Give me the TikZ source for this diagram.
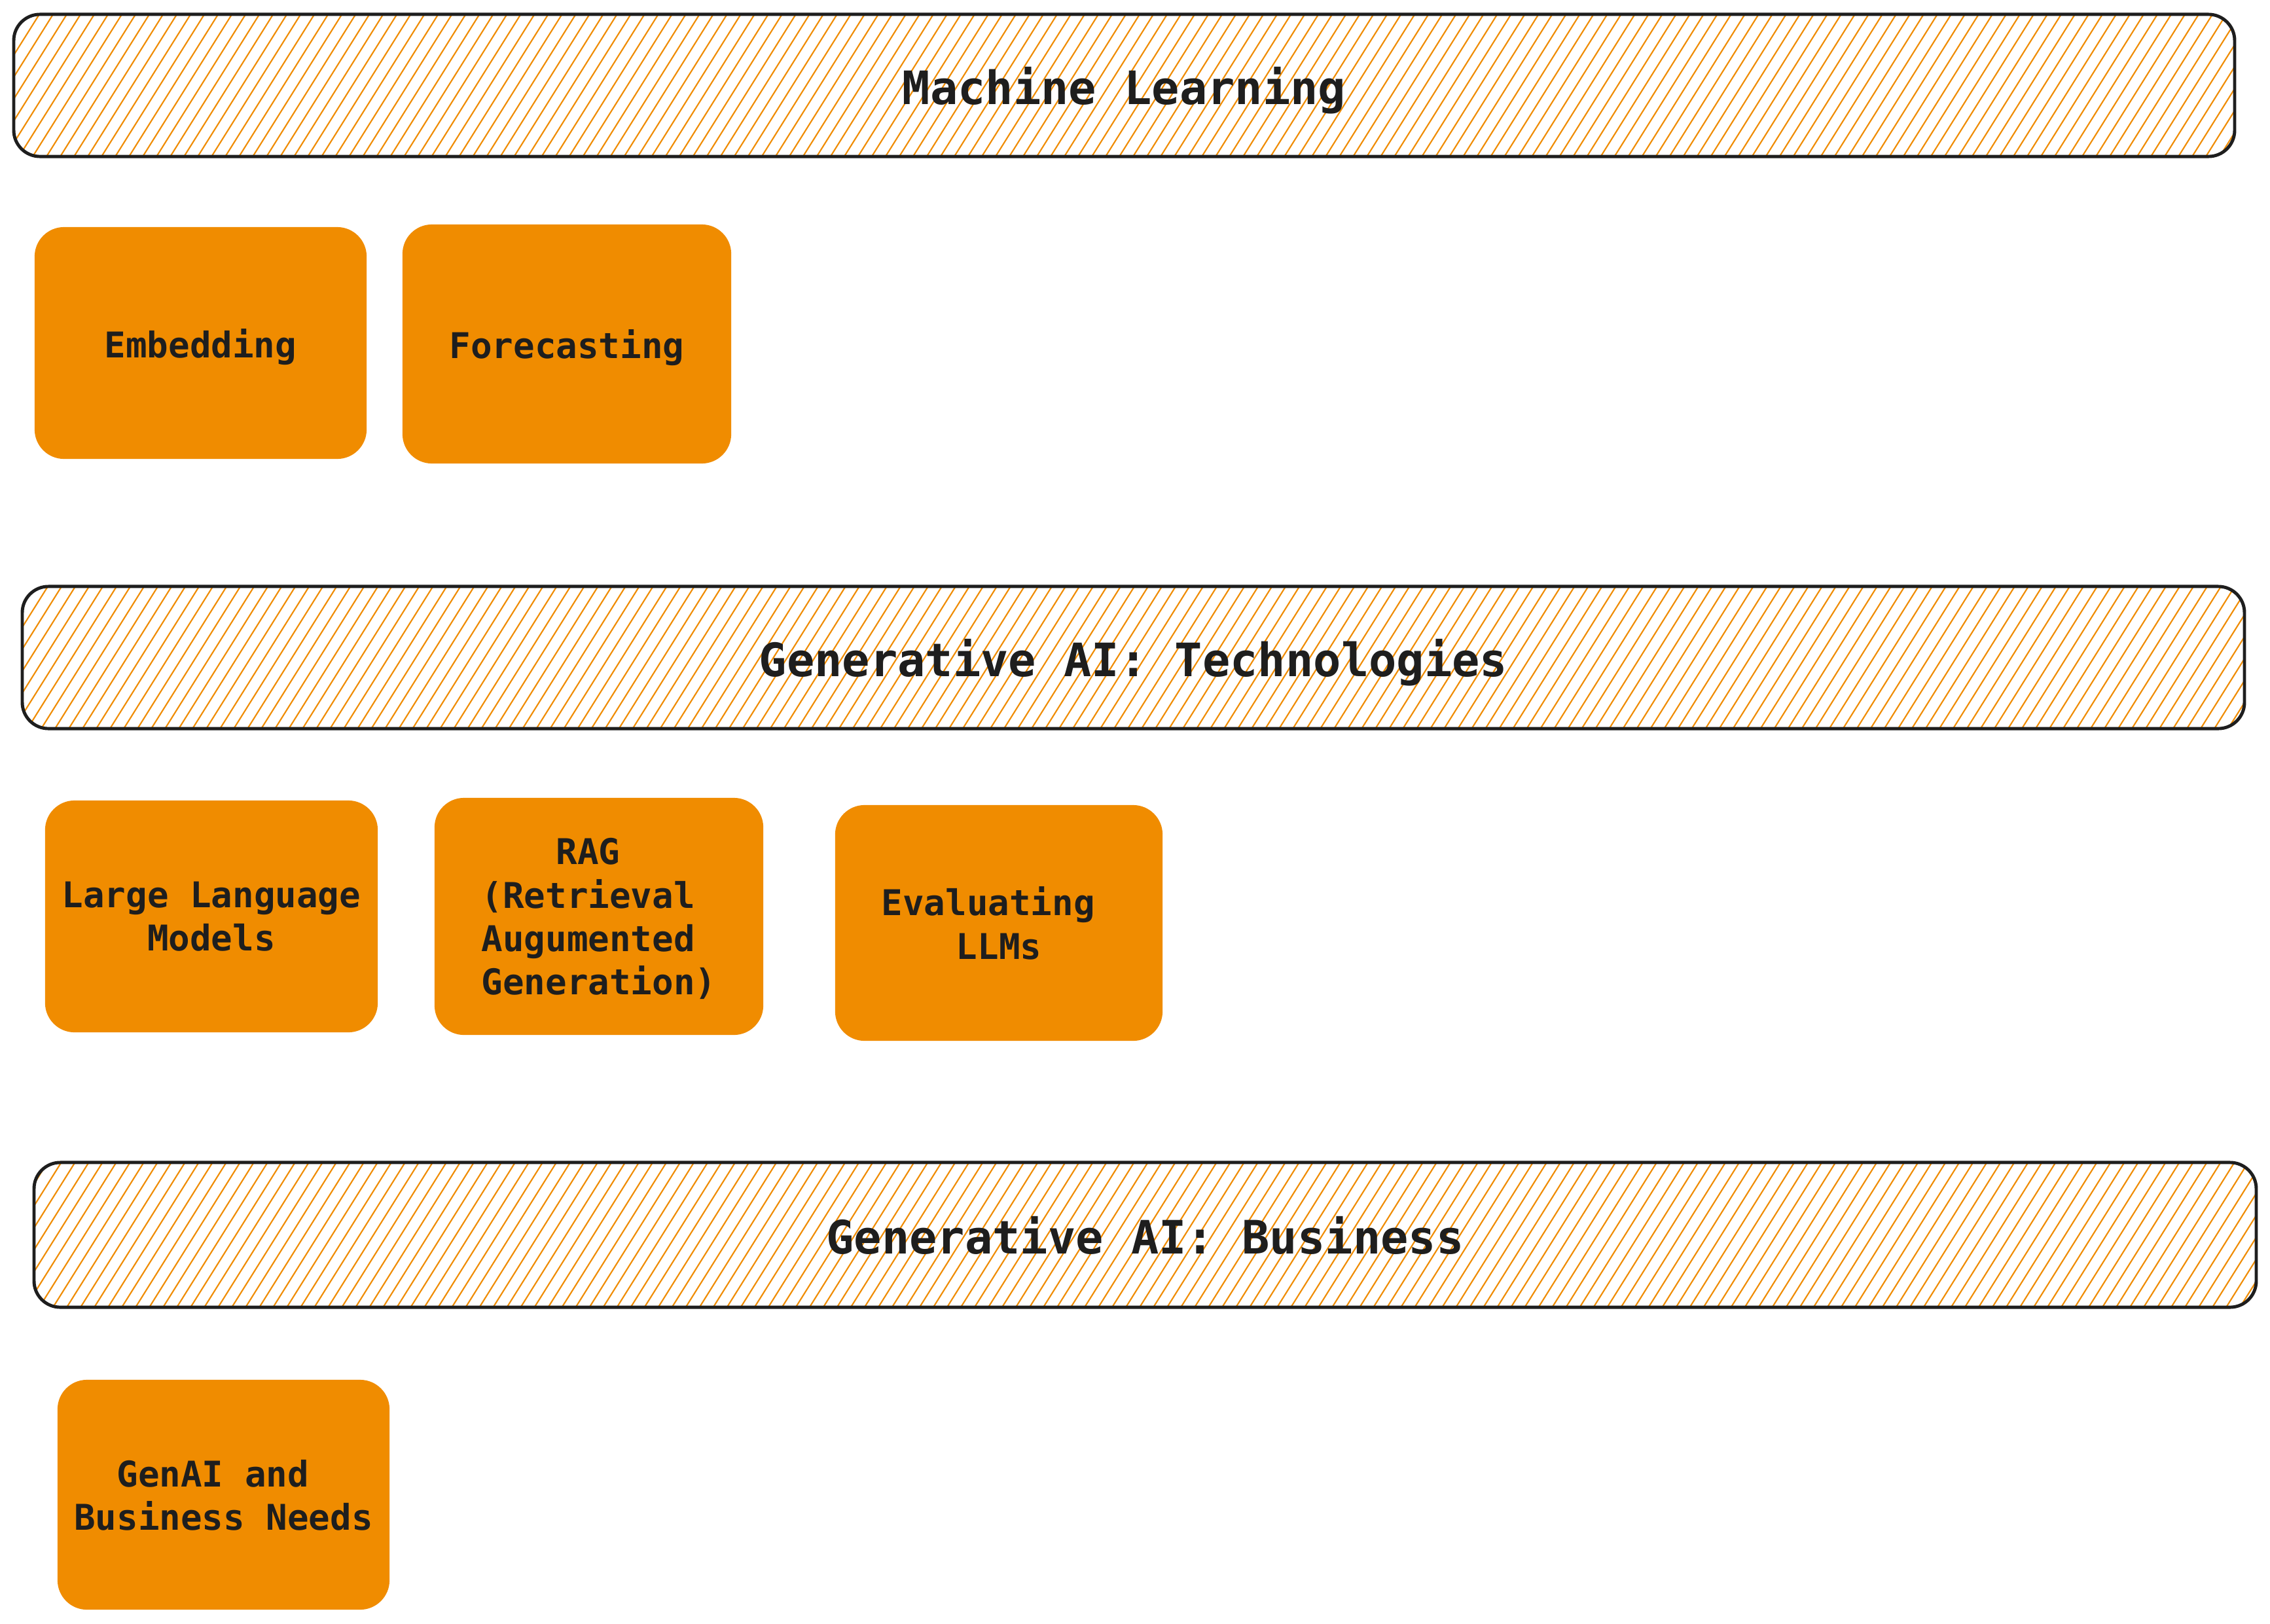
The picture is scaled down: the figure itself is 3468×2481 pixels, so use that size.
\documentclass[tikz,border=0pt]{standalone}
\usepackage{fontspec}
\setmonofont{DejaVu Sans Mono}
\definecolor{orng}{HTML}{F08C00}
\definecolor{ink}{HTML}{1E1E1E}
\newcommand{\tsp}{\hphantom{x}}
\tikzset{
  banner/.style={draw=ink, line width=1.4pt, rounded corners=0.4cm, inner sep=0pt,
    text depth=0pt,
    font=\ttfamily\bfseries\fontsize{20}{24}\selectfont, text=ink,
    path picture={\foreach \i in {0,...,170}{\draw[orng, line width=0.6pt]
      ([xshift=\i*0.21cm-1.6cm]path picture bounding box.south west) -- ++(1.41cm,2.25cm);}}},
  card/.style={fill=orng, rounded corners=0.45cm, inner sep=0pt, align=center,
    text depth=0pt,
    font=\ttfamily\bfseries\fontsize{15.4}{18.8}\selectfont, text=ink}
}
\begin{document}
\begin{tikzpicture}[x=0.01cm, y=-0.01cm]
\useasboundingbox (0,0) rectangle (3468,2481);
\fill[white] (0,0) rectangle (3468,2481);

\node[banner, minimum width=33.91cm, minimum height=2.17cm] (ml) at (1717.5,130.5) {Machine Learning};
\node[banner, minimum width=33.93cm, minimum height=2.17cm] (gat) at (1731.5,1004.5) {Generative AI: Technologies};
\node[banner, minimum width=33.93cm, minimum height=2.21cm] (gab) at (1749.5,1886.5) {Generative AI: Business};

\node[card, minimum width=5.07cm, minimum height=3.54cm] (emb) at (306.5,524) {Embedding};
\node[card, minimum width=5.02cm, minimum height=3.65cm] (fc) at (866,525.5) {Forecasting};

\node[card, minimum width=5.08cm, minimum height=3.54cm] (llm) at (323,1400) {Large Language\\Models};
\node[card, minimum width=5.02cm, minimum height=3.62cm] (rag) at (915,1400) {RAG\tsp\\(Retrieval\tsp\\Augumented\tsp\\Generation)};
\node[card, minimum width=5.00cm, minimum height=3.60cm] (eval) at (1526,1410) {Evaluating\tsp\\LLMs};

\node[card, minimum width=5.07cm, minimum height=3.51cm] (biz) at (341.5,2283.5) {GenAI and\tsp\\Business Needs};
\end{tikzpicture}
\end{document}
